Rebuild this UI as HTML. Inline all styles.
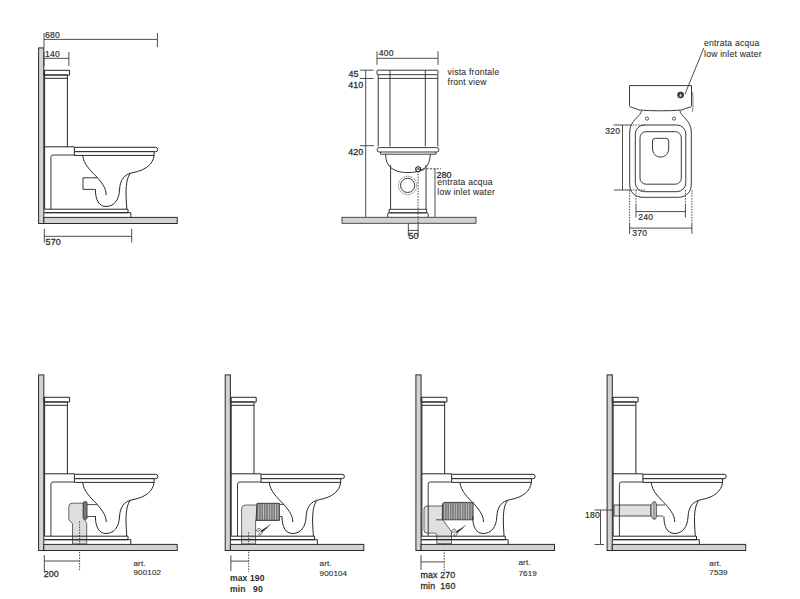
<!DOCTYPE html>
<html><head><meta charset="utf-8">
<style>
html,body{margin:0;padding:0;background:#fff;width:800px;height:599px;overflow:hidden}
svg{display:block}
text{font-family:"Liberation Sans",sans-serif;fill:#2e2e2e}
.t{font-size:8.6px;stroke:#2e2e2e;stroke-width:0.18px;letter-spacing:0.2px}
.b{font-size:8.6px;font-weight:bold;letter-spacing:0.1px}
.w{font-size:8.6px;letter-spacing:0.22px;stroke:#2e2e2e;stroke-width:0.08px}
.m{font-size:8.9px;stroke:#2e2e2e;stroke-width:0.28px;letter-spacing:0.1px}
.s{font-size:8.1px;stroke:#2e2e2e;stroke-width:0.12px;letter-spacing:0.1px}
</style></head><body>
<svg width="800" height="599" viewBox="0 0 800 599">
<rect width="800" height="599" fill="#fff"/>
<defs>
<g id="tw">
  <!-- wall & floor -->
  <rect x="38.6" y="47.9" width="5.2" height="175.6" fill="#d2d2d2" stroke="#2a2a2a" stroke-width="1"/>
  <rect x="43.8" y="217.4" width="133.4" height="6.1" fill="#d2d2d2" stroke="#2a2a2a" stroke-width="1"/>
</g>
<g id="tt" fill="none" stroke="#262626" stroke-width="1">
  <!-- tank -->
  <path d="M43.8,70.3 H69.6 V75 H43.8 Z" fill="#fff"/>
  <path d="M44.5,75 H67.4 M44.5,78.3 H67.4 M67.4,75 V146.8 M44.3,146.8 H74.5 M44.6,70.3 V146.8"/>
  <!-- block -->
  <path d="M44.6,146.8 V209" />
  <path d="M50.9,209.2 V157.2 Q50.9,155 53.1,155 H74.5" stroke-width="0.9"/>
  <!-- seat -->
  <path d="M74.4,147.3 H155.6 A2.2,2.2 0 0 1 155.6,151.7 H74.4 Z" fill="#fff"/>
  <path d="M74.4,151.7 H154.1 V155.4 H74.4 Z" fill="#fff"/>
  <!-- bowl -->
  <path d="M82.7,155.4 C83.5,164 90,170 97,177.2 C103,184 106.2,189 106.2,195"/>
  <path d="M95.4,189.4 C95.4,200 99,206.5 106,206.5 C114,206.5 119,200 119.5,190 C120,180 124,174.2 133,172.6 C146,170.2 153,164 154.1,155.4"/>
  <path d="M130.2,173.6 C127.3,177 126,184 126,193 C126,200 126.7,205 126.7,209"/>
  <!-- plinth -->
  <path d="M44.3,209.2 H128 V212.7 H44.3 M44.3,212.7 H130.8 V217.4"/>
</g>
<g id="sc">
  <path d="M260.6,530.4 L266.3,527.2 L271.6,523.2 L267,528.2 L262,532.4 Z" fill="#3a3a3a" stroke="none"/>
  <ellipse cx="258.4" cy="529.9" rx="2.1" ry="1.2" transform="rotate(-30 258.4 529.9)" fill="none" stroke="#555" stroke-width="0.8"/>
  <ellipse cx="260.4" cy="533.6" rx="2.1" ry="1.2" transform="rotate(-55 260.4 533.6)" fill="none" stroke="#555" stroke-width="0.8"/>
</g>
</defs>

<!-- ============ TOP LEFT SIDE VIEW ============ -->
<use href="#tw"/>
<use href="#tt"/>
<path d="M97.2,177.8 H83 V189.4 H95.4" fill="none" stroke="#2f2f2f" stroke-width="0.95"/>
<g stroke="#3a3a3a" stroke-width="0.9" fill="none">
  <path d="M44,33 V47.5 M44,39.4 H157.4 M157.4,33 V47"/>
  <path d="M44,52 V66 M44,58.3 H68.9 M68.9,52 V66"/>
  <path d="M44.3,228.8 V242.5 M44.3,236.3 H131.7 M131.7,228.8 V242.5"/>
</g>
<text class="t" x="45" y="37.8">680</text>
<text class="t" x="45" y="57.2">140</text>
<text class="m" x="45.6" y="244.8">570</text>

<!-- ============ FRONT VIEW ============ -->
<g stroke="#3a3a3a" stroke-width="0.9" fill="none">
  <path d="M377,51.3 V64.8 M377,58.3 H438 M438,51.3 V64.8"/>
  <path d="M360,70.2 H373.5 M360,78.5 H373.5 M365.7,70.2 V217 M360,145.7 H374"/>
  <path d="M435,168.6 V217" />
  <path d="M423,168.8 H441" stroke-dasharray="2.2 1.2"/>
  <path d="M408.35,223.4 V236.4 M408.35,230.4 H418"/>
</g>
<g fill="none" stroke="#2f2f2f" stroke-width="0.95">
  <rect x="377" y="70.2" width="61" height="4.5" rx="0.8" fill="#fff"/>
  <path d="M378.2,74.7 V146.4 M437.8,74.7 V146.4 M378.2,78.4 H437.8 M390,70.2 V146.4 M425.3,70.2 V146.4"/>
  <rect x="377.2" y="147.6" width="61.6" height="4.4" rx="2" fill="#fff"/>
  <path d="M380.6,152 V154.2 H436 V152"/>
  <path d="M385.6,154.2 C385.6,168 395,172.6 408,172.6 C421,172.6 430.3,168 430.3,154.2"/>
  <path d="M390.6,165 V209.3 M426,165 V209.3"/>
  <path d="M389.1,209.3 H426.7 V212.8 H389.1 Z" fill="#fff"/>
  <path d="M387.7,217.2 V214 Q387.7,212.8 389,212.8 H426.9 Q428.2,212.8 428.2,214 V217.2"/>
  <circle cx="407.6" cy="185.4" r="7.1"/>
  <circle cx="407.6" cy="185.4" r="9.2" stroke-dasharray="0.9 0.9" stroke-width="0.8"/>
</g>
<rect x="342" y="217.3" width="134" height="6" fill="#d2d2d2" stroke="#3a3a3a" stroke-width="0.9"/>
<path d="M418.1,171 V223.4" stroke="#3a3a3a" stroke-width="0.9" stroke-dasharray="1.6 1.2"/>
<path d="M418.1,223.4 V236.4" stroke="#3a3a3a" stroke-width="0.9"/>
<circle cx="418.2" cy="169.2" r="2.5" fill="#fff" stroke="#222" stroke-width="1.1"/><path d="M416.8,170 L418.2,168 L419.6,170" fill="none" stroke="#333" stroke-width="0.7"/>
<path d="M418.2,169.2 L423.5,170.4" stroke="#2a2a2a" stroke-width="0.8"/>
<text class="t" x="378.8" y="56.2">400</text>
<text class="m" x="348.5" y="77.3">45</text>
<text class="m" x="348.3" y="88.1">410</text>
<text class="m" x="348.2" y="155.1">420</text>
<text class="m" x="436.5" y="177.7">280</text>
<text class="m" x="408.5" y="238.5">50</text>
<text class="w" x="447.6" y="75.2">vista frontale</text>
<text class="w" x="447.6" y="84.6">front view</text>
<text class="w" x="437.3" y="184.6">entrata acqua</text>
<text class="w" x="437.3" y="195.2">low inlet water</text>

<!-- ============ TOP VIEW ============ -->
<g fill="none" stroke="#2f2f2f" stroke-width="0.95">
  <path d="M629.5,85.6 H691.5 V105.5 Q691.5,107.2 689.5,107.4 Q686,108 682,110 Q672,110.8 660.5,110.8 Q649,110.8 639,110 Q635,108 631.5,107.4 Q629.5,107.2 629.5,105.5 Z"/>
  <path d="M692.6,92 C693.2,100 693.2,106 692.4,112" stroke-width="0.6"/>
  <path d="M641.5,110.8 C641.5,116 629.7,120 629.7,132 V184 C629.7,192.5 635,197.3 643,197.3 H678 C686,197.3 691.3,192.5 691.3,184 V132 C691.3,120 680,116 680,110.8"/>
  <rect x="635.3" y="125" width="50.5" height="66.7" rx="9"/>
  <rect x="640" y="131.7" width="41.3" height="52.5" rx="6"/>
  <path d="M652.5,141 Q652.5,138.3 655.5,138.3 H665.7 Q668.7,138.3 668.7,141 V148 C668.7,154 665,157 660.6,157 C656.2,157 652.5,154 652.5,148 Z"/>
  <circle cx="647" cy="118.6" r="1.6" stroke-width="0.8"/>
  <circle cx="674" cy="118.6" r="1.6" stroke-width="0.8"/>
</g>
<circle cx="680.6" cy="95" r="3" fill="#444" stroke="#222" stroke-width="0.8"/>
<path d="M679.2,96.5 L680.6,93.6 L682,96.5 Z" fill="#ddd"/>
<g stroke="#3a3a3a" stroke-width="0.9" fill="none">
  <path d="M685,94 L703.8,48"/>
  <path d="M613.5,125 H630 M613.8,190 H630 M622.5,125 V190"/>
  <path d="M630,125 H645 M630,190 H645" stroke-dasharray="1.5 1.2"/>
  <path d="M629.6,190 V223 M636,190 V205 M685.4,190 V205 M691.9,190 V223" stroke-dasharray="1.5 1.2"/>
  <path d="M629.6,223 V233.8 M691.9,223 V233.8 M636,205 V217.5 M685.4,205 V217.5"/>
  <path d="M636,211.6 H685.4 M629.6,228.1 H691.9"/>
</g>
<text class="t" x="605.3" y="133.8">320</text>
<text class="t" x="638.3" y="220.2">240</text>
<text class="t" x="632.3" y="236.2">370</text>
<text class="w" x="704" y="45.8">entrata acqua</text>
<text class="w" x="704" y="57.4">low inlet water</text>

<!-- D1 pipe -->
<g stroke="#3a3a3a" stroke-width="0.9">
  <path d="M72.5,544 V523.3 L68.8,520 V506.5 Q68.8,503.2 72,503.2 H83.3 V517.5 L86.7,523.3 V544 Z" fill="#dedede" stroke="#555"/>
  <rect x="83.3" y="501.7" width="3.7" height="17.5" rx="1" fill="#7a7a7a"/>
  <path d="M87,504.6 H97 M87,516.5 H95.6" fill="none"/>
  <path d="M79.6,521 V571" fill="none" stroke-dasharray="1.6 1.2"/>
  <path d="M44.3,555 V572 M44.3,561 H79.6" fill="none"/>
</g>
<text class="m" x="43.8" y="576.8">200</text>
<text class="s" x="133.5" y="566">art.</text>
<text class="s" x="133.5" y="575.2">900102</text>

<!-- D2 pipe -->
<g stroke="#3a3a3a" stroke-width="0.9">
  <path d="M241.6,544 V508.8 Q241.6,505 245.4,505 H257 V520.4 H255.6 V544 Z" fill="#e0e0e0" stroke="#555"/>
  <path d="M257,503.3 H279.4 V520.4 H256 Z" fill="#6e6e6e"/>
  <path d="M258.7,504 V519.6 M261.1,504 V519.6 M263.5,504 V519.6 M265.9,504 V519.6 M268.3,504 V519.6 M270.7,504 V519.6 M273.1,504 V519.6 M275.5,504 V519.6 M277.9,504 V519.6" stroke="#d4d4d4" stroke-width="0.8"/><path d="M259.9,504 V519.6 M262.3,504 V519.6 M264.7,504 V519.6 M267.1,504 V519.6 M269.5,504 V519.6 M271.9,504 V519.6 M274.3,504 V519.6 M276.7,504 V519.6" stroke="#8c8c8c" stroke-width="0.6"/>
  <path d="M279.4,504.4 H284 M279.4,516.4 H282" fill="none"/>
  <path d="M248.7,532 V572" fill="none" stroke-dasharray="1.6 1.2"/>
  <path d="M230.9,555.4 V571 M230.9,561.1 H248.7" fill="none"/>
  <use href="#sc"/>
</g>
<text class="b" x="230" y="581.4">max 190</text>
<text class="b" x="230" y="591.7" xml:space="preserve">min   90</text>
<text class="s" x="319.6" y="565.7">art.</text>
<text class="s" x="319.6" y="576">900104</text>

<!-- D3 pipe -->
<g stroke="#3a3a3a" stroke-width="0.9">
  <path d="M424,509 Q424,506 427,506 H442.8 V519.8 L451.5,531.8 V543.7 H436.8 V535.5 Q436.8,533.1 434.5,533.1 H427 Q424,533.1 424,530 Z" fill="#e0e0e0" stroke="#555"/>
  <path d="M436,519.8 H442.8" fill="none"/>
  <path d="M445,502.4 H473.1 V519.8 H442.4 V505 Q442.4,502.4 445,502.4 Z" fill="#6e6e6e"/>
  <path d="M444.7,503.2 V519.2 M447.1,503.2 V519.2 M449.5,503.2 V519.2 M451.9,503.2 V519.2 M454.3,503.2 V519.2 M456.7,503.2 V519.2 M459.1,503.2 V519.2 M461.5,503.2 V519.2 M463.9,503.2 V519.2 M466.3,503.2 V519.2 M468.7,503.2 V519.2 M471.1,503.2 V519.2" stroke="#d4d4d4" stroke-width="0.8"/><path d="M445.9,503.2 V519.2 M448.3,503.2 V519.2 M450.7,503.2 V519.2 M453.1,503.2 V519.2 M455.5,503.2 V519.2 M457.9,503.2 V519.2 M460.3,503.2 V519.2 M462.7,503.2 V519.2 M465.1,503.2 V519.2 M467.5,503.2 V519.2 M469.9,503.2 V519.2 M472.3,503.2 V519.2" stroke="#8c8c8c" stroke-width="0.6"/>
  <path d="M444.2,544 V572" fill="none" stroke-dasharray="1.6 1.2"/>
  <path d="M421,555 V570 M421,561.9 H444.2" fill="none"/>
  <use href="#sc" transform="translate(195.2,0.8)"/>
</g>
<text class="m" x="420.6" y="577.8">max 270</text>
<text class="m" x="420.6" y="588.5" xml:space="preserve">min  160</text>
<text class="s" x="518.5" y="564.8">art.</text>
<text class="s" x="518.5" y="575.5">7619</text>

<!-- D4 pipe -->
<g stroke="#3a3a3a" stroke-width="0.9">
  <rect x="614" y="505" width="37" height="11" fill="#e0e0e0"/>
  <path d="M651,505 C652.3,504.5 652.6,501.6 654.2,501.6 Q656.3,501.6 656.3,504.5 V516.6 Q656.3,519.4 654.2,519.4 C652.6,519.4 652.3,516.5 651,516 Z" fill="#d6d6d6"/><path d="M654,502.5 V518.5" fill="none" stroke-width="0.7"/>
  <path d="M656,505 H665 M656,516 H663" fill="none"/>
  
</g>
<text class="t" x="585" y="518.2">180</text>
<text class="s" x="709.3" y="566">art.</text>
<text class="s" x="709.3" y="575.3">7539</text>
<!-- ============ BOTTOM ROW ============ -->
<g transform="translate(0,327)">
  <use href="#tw"/>
  <use href="#tt"/>
</g>
<g transform="translate(186.6,327)">
  <use href="#tw"/>
  <use href="#tt"/>
</g>
<g transform="translate(377.3,327)">
  <use href="#tw"/>
  <use href="#tt"/>
</g>
<g transform="translate(568.5,327)">
  <use href="#tw"/>
  <use href="#tt"/>
</g>

<path d="M594.5,510 H613 M600.5,510 V544.5 M594.5,544.5 H604" fill="none" stroke="#3a3a3a" stroke-width="0.9"/>
</svg>
</body></html>
